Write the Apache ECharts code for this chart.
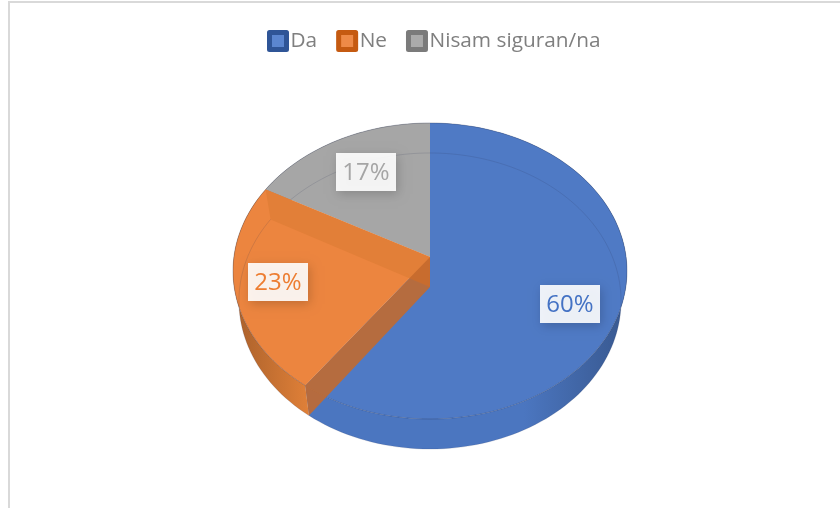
<!DOCTYPE html>
<html>
<head>
<meta charset="utf-8">
<style>
    html, body { margin: 0; padding: 0; background: #fff; }
    #main { width: 840px; height: 508px; }
</style>
<script src="https://cdn.jsdelivr.net/npm/echarts@6/dist/echarts.min.js"></script>
</head>
<body>
<div id="main"></div>
<script>
    // data
    var categories = ['Da', 'Ne', 'Nisam siguran/na'];
    var shares = [60, 23, 17];

    // colours, per slice
    var faceColors = ['#4F7AC5', '#EC853F', '#A6A6A6'];
    var legendEdge = ['#2F5597', '#C55A11', '#7B7B7B'];
    var legendFill = ['#5B86D0', '#EE8A47', '#ABABAB'];
    var labelColors = ['#4472C4', '#ED7D31', '#A5A5A5'];
    var wallDark = ['#38588F', '#A9602B', '#808080'];
    var wallLight = ['#4B76C0', '#E08038', '#9A9A9A'];
    var cutColors = ['#4A73BA', 'rgba(196,106,44,0.88)', '#9C9C9C'];
    var backColors = ['#4A73BA', '#E27F38', '#A0A0A0'];

    // label box centres in px
    var labelSpots = [[570, 304], [278, 282], [366, 172]];

    // pie geometry: the circle is tilted with a small perspective
    var cx = 430, cy = 257, R = 197, depth = 30, baseShrink = 0.97;
    var tiltA = 146.7, tiltB = 196.1, tiltK = 0.0946;

    var starts = [];
    var sum = 0;
    for (var i = 0; i < shares.length; i++) {
        starts.push(sum);
        sum += shares[i];
    }

    function project(api, pct, drop) {
        // polar scale gives the point on the flat circle, then tilt it
        var p = api.coord([1, pct]);
        var u = (p[0] - cx) / R;
        var s = (p[1] - cy) / R;
        var w = 1 - tiltK * s;
        var bx = drop > 0 ? tiltB * baseShrink : tiltB;
        return [cx + bx * u / w, cy + tiltA * s / w + drop];
    }

    function arcPoints(api, from, to, drop) {
        var pts = [];
        var n = Math.max(2, Math.round((to - from) * 2));
        for (var j = 0; j <= n; j++) {
            pts.push(project(api, from + (to - from) * j / n, drop));
        }
        return pts;
    }

    function poly(points, fill, z2) {
        return {type: 'polygon', z2: z2, shape: {points: points}, style: {fill: fill}};
    }

    function line(points, color, z2) {
        return {type: 'polyline', z2: z2, shape: {points: points},
            style: {fill: null, stroke: color, lineWidth: 1}};
    }

    function sliceRenderer(idx) {
        return function (params, api) {
            var from = starts[idx];
            var to = from + shares[idx];
            var top = arcPoints(api, from, to, 0);
            var bottom = arcPoints(api, from, to, depth);
            var apex = [cx, cy];
            var apexLow = [cx, cy + depth];
            var kids = [];

            // outer wall
            kids.push(poly(top.concat(bottom.slice().reverse()), {
                type: 'linear', x: 0, y: 0, x2: 1, y2: 0,
                colorStops: idx === 0
                    ? [{offset: 0, color: wallLight[0]}, {offset: 0.68, color: wallLight[0]}, {offset: 1, color: wallDark[0]}]
                    : [{offset: 0, color: wallDark[idx]}, {offset: 1, color: wallLight[idx]}]
            }, 1));

            // top face
            kids.push(poly([apex].concat(top), faceColors[idx], 2));

            // inner walls seen through the face
            var a0 = top[0], a1 = top[top.length - 1];
            var b0 = bottom[0], b1 = bottom[bottom.length - 1];
            if (idx === 1) {
                kids.push(poly([apex, a1, b1, apexLow], backColors[1], 3));
                kids.push(poly([apex, a0, b0, apexLow], cutColors[1], 4));
            }

            // faint lines of the far base and the near rim
            kids.push(line(bottom, 'rgba(40,50,80,0.15)', 5));
            kids.push(line(top, 'rgba(40,50,80,0.3)', 5));

            // label box
            var spot = labelSpots[idx];
            kids.push({
                type: 'rect', z2: 8,
                shape: {x: spot[0] - 30, y: spot[1] - 19, width: 60, height: 38},
                style: {fill: 'rgba(255,255,255,0.9)', shadowBlur: 10, shadowOffsetX: 2, shadowOffsetY: 3, shadowColor: 'rgba(0,0,0,0.2)'}
            });
            kids.push({
                type: 'text', z2: 9, x: spot[0], y: spot[1] + 1,
                style: {
                    text: shares[idx] + '%', fill: labelColors[idx], align: 'center', verticalAlign: 'middle',
                    font: '24px "Open Sans"'
                }
            });
            return {type: 'group', children: kids};
        };
    }

    var sliceZ = [1, 3, 2];
    var series = categories.map(function (name, idx) {
        return {
            type: 'custom',
            name: name,
            coordinateSystem: 'polar',
            silent: true,
            z: sliceZ[idx],
            itemStyle: {color: legendFill[idx]},
            data: [[1, shares[idx]]],
            clip: false,
            renderItem: sliceRenderer(idx)
        };
    });

    var option = {
        animation: false,
        backgroundColor: '#fff',
        polar: {center: [cx, cy], radius: R},
        angleAxis: {type: 'value', min: 0, max: 100, startAngle: 90, clockwise: true, show: false},
        radiusAxis: {type: 'value', min: 0, max: 1, show: false},
        legend: {
            left: 262, top: 25,
            itemWidth: 17, itemHeight: 17, itemGap: 19,
            selectedMode: false,
            textStyle: {color: '#7F7F7F', fontSize: 20.8, fontFamily: 'Open Sans', padding: [0, 0, 0, -1]},
            data: categories.map(function (name, idx) {
                return {
                    name: name,
                    icon: 'rect',
                    itemStyle: {color: legendFill[idx], borderColor: legendEdge[idx], borderWidth: 5, borderJoin: 'round'}
                };
            })
        },
        graphic: [
            {type: 'rect', shape: {x: 8, y: 1, width: 832, height: 2}, style: {fill: '#D9D9D9'}},
            {type: 'rect', shape: {x: 8, y: 1, width: 2, height: 507}, style: {fill: '#D9D9D9'}}
        ],
        series: series
    };

    var myChart = echarts.init(document.getElementById('main'));
    myChart.setOption(option);
</script>
</body>
</html>
